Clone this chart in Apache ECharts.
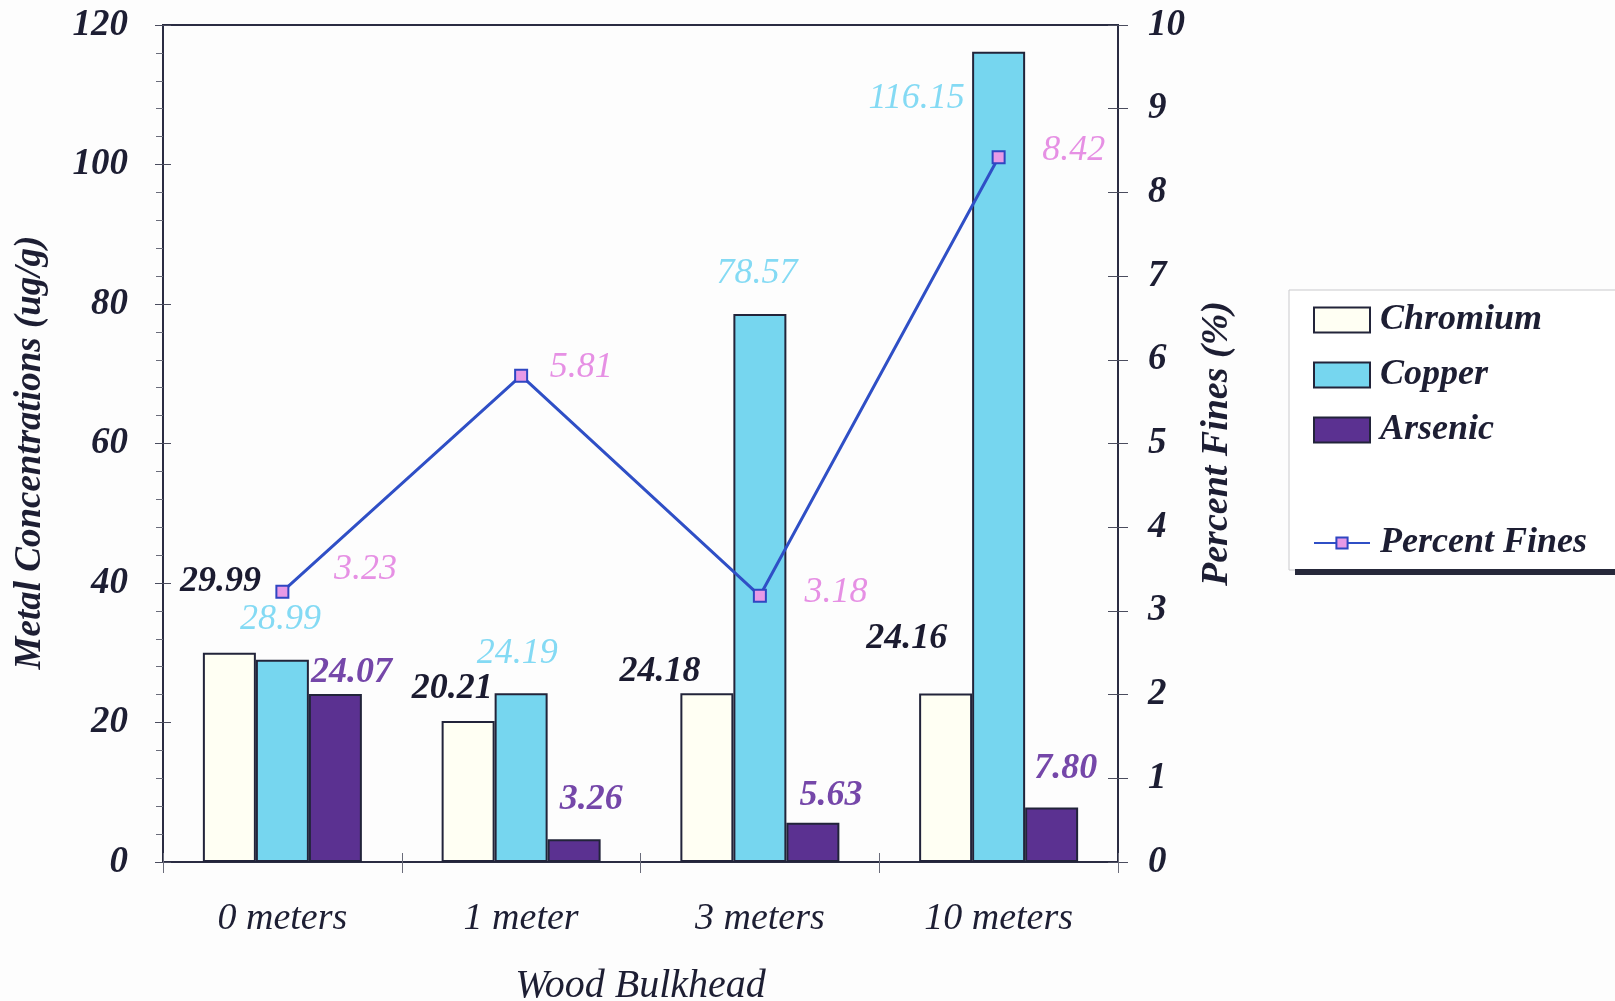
<!DOCTYPE html>
<html>
<head>
<meta charset="utf-8">
<script src="https://cdn.jsdelivr.net/npm/echarts@6/dist/echarts.min.js"></script>
<style>
  html, body { margin: 0; padding: 0; background: #fdfdfd; }
  #chart { width: 1615px; height: 1001px; }
</style>
</head>
<body>
<div id="chart"></div>
<script>
// Sampling stations along the wood bulkhead
const stations = ['0 meters', '1 meter', '3 meters', '10 meters'];

// Metal concentrations (ug/g)
const chromium = [29.99, 20.21, 24.18, 24.16];
const copper   = [28.99, 24.19, 78.57, 116.15];
const arsenic  = [24.07, 3.26, 5.63, 7.80];

// Percent fines (%)
const percentFines = [3.23, 5.81, 3.18, 8.42];

// Left and right axis tick settings
const metalTicks = { min: 0, max: 120, interval: 20 };
const finesTicks = { min: 0, max: 10, interval: 1 };

// Hand-placed value label offsets (px, relative to bar top / point)
const chromiumLabelOffsets = [[-9, -71], [-16, -32], [-47, -22], [-39, -55]];
const copperLabelOffsets   = [[-2, -40], [-4, -40], [-3, -40], [-82, 47]];
const arsenicLabelOffsets  = [[16, -21], [17, -40], [18, -27], [14, -39]];
const finesLabelOffsets    = [[83, -15], [60, -1], [76, 4], [75, 0]];

const FONT = '"Liberation Serif", "Times New Roman", serif';
const INK = '#1d1e33';
const AXIS = '#2a2c42';

function withOffsets(values, offsets) {
  return values.map((v, i) => ({ value: v, label: { offset: offsets[i] } }));
}

function valueLabel(color, weight) {
  return {
    show: true,
    position: 'top',
    distance: 0,
    verticalAlign: 'middle',
    align: 'center',
    color: color,
    fontFamily: FONT,
    fontStyle: 'italic',
    fontWeight: weight,
    fontSize: 36,
    formatter: p => Number(p.value).toFixed(2)
  };
}

// Tick-only axis that draws the inner half of crossing tick marks
function innerTickY(position, range, len) {
  return {
    type: 'value', position: position,
    min: range.min, max: range.max, interval: range.interval,
    axisLine: { show: false },
    axisTick: { show: true, inside: true, length: len, lineStyle: { color: '#4a4c5e', width: 1 } },
    axisLabel: { show: false },
    splitLine: { show: false }
  };
}

const chart = echarts.init(document.getElementById('chart'), null, { renderer: 'canvas' });

const barBorder = { borderColor: '#22243a', borderWidth: 2 };

chart.setOption({
  backgroundColor: '#fdfdfd',
  animation: false,
  textStyle: { fontFamily: FONT },
  grid: {
    left: 163, right: 497, top: 25, bottom: 139,
    outerBoundsMode: 'none',
    containLabel: false,
    show: true, borderColor: AXIS, borderWidth: 2,
    backgroundColor: 'transparent'
  },
  graphic: [
    {
      type: 'rect', z: 0,
      shape: { x: 1289, y: 290, width: 340, height: 280 },
      style: { fill: '#ffffff', stroke: '#c9c9cc', lineWidth: 1 }
    },
    {
      type: 'rect', z: 0,
      shape: { x: 1295, y: 569, width: 330, height: 6 },
      style: { fill: '#26283a' }
    }
  ],
  legend: [
    {
      data: ['Chromium', 'Copper', 'Arsenic'],
      icon: 'rect',
      orient: 'vertical',
      left: 1313, top: 302,
      padding: 0,
      itemWidth: 56, itemHeight: 25,
      itemGap: 19,
      itemStyle: { borderColor: '#22243a', borderWidth: 2 },
      textStyle: {
        fontFamily: FONT, fontStyle: 'italic', fontWeight: 'bold',
        fontSize: 36, lineHeight: 36, color: INK, padding: [0, 0, 0, 5]
      }
    },
    {
      data: ['Percent Fines'],
      orient: 'vertical',
      left: 1313, top: 525,
      padding: 0,
      itemWidth: 56, itemHeight: 14,
      textStyle: {
        fontFamily: FONT, fontStyle: 'italic', fontWeight: 'bold',
        fontSize: 36, lineHeight: 36, color: INK, padding: [0, 0, 0, 5]
      }
    }
  ],
  xAxis: [
    {
      type: 'category',
      data: stations,
      boundaryGap: true,
      name: 'Wood Bulkhead',
      nameLocation: 'middle',
      nameGap: 104,
      nameTextStyle: { fontFamily: FONT, fontStyle: 'italic', fontSize: 40, color: INK },
      axisLine: { lineStyle: { color: AXIS, width: 2 } },
      axisTick: { show: true, alignWithLabel: false, length: 11, lineStyle: { color: '#6a6c7a', width: 1 } },
      axisLabel: { fontFamily: FONT, fontStyle: 'italic', fontSize: 38, color: INK, margin: 38 },
      splitLine: { show: false }
    },
    {
      type: 'category',
      data: stations,
      boundaryGap: true,
      position: 'bottom',
      axisLine: { show: false },
      axisTick: { show: true, inside: true, alignWithLabel: false, length: 9, lineStyle: { color: '#6a6c7a', width: 1 } },
      axisLabel: { show: false },
      splitLine: { show: false }
    }
  ],
  yAxis: [
    {
      type: 'value',
      min: metalTicks.min, max: metalTicks.max, interval: metalTicks.interval,
      name: 'Metal Concentrations (ug/g)',
      nameLocation: 'middle',
      nameRotate: 90,
      nameGap: 114,
      nameTextStyle: { fontFamily: FONT, fontStyle: 'italic', fontWeight: 'bold', fontSize: 37, color: INK, padding: [0, 18, 0, 0] },
      axisLine: { show: true, lineStyle: { color: AXIS, width: 2 } },
      axisTick: { show: true, length: 8, lineStyle: { color: '#4a4c5e', width: 1 } },
      minorTick: { show: true, splitNumber: 5, length: 7, lineStyle: { color: '#6a6c7a', width: 1 } },
      axisLabel: { fontFamily: FONT, fontStyle: 'italic', fontWeight: 'bold', fontSize: 37, color: INK, margin: 35 },
      splitLine: { show: false }
    },
    {
      type: 'value',
      position: 'right',
      min: finesTicks.min, max: finesTicks.max, interval: finesTicks.interval,
      name: 'Percent Fines (%)',
      nameLocation: 'middle',
      nameRotate: 90,
      nameGap: 80,
      nameTextStyle: { fontFamily: FONT, fontStyle: 'italic', fontWeight: 'bold', fontSize: 38, color: INK },
      axisLine: { show: true, lineStyle: { color: AXIS, width: 2 } },
      axisTick: { show: true, length: 10, lineStyle: { color: '#4a4c5e', width: 1 } },
      axisLabel: { fontFamily: FONT, fontStyle: 'italic', fontWeight: 'bold', fontSize: 37, color: INK, margin: 30 },
      splitLine: { show: false }
    },
    innerTickY('left', metalTicks, 8),
    innerTickY('right', finesTicks, 10)
  ],
  series: [
    {
      name: 'Chromium', type: 'bar', yAxisIndex: 0,
      barWidth: 53, barGap: '0%',
      itemStyle: Object.assign({ color: '#fffff3' }, barBorder),
      label: valueLabel('#1b1b30', 'bold'),
      data: withOffsets(chromium, chromiumLabelOffsets)
    },
    {
      name: 'Copper', type: 'bar', yAxisIndex: 0,
      barWidth: 53, barGap: '0%',
      itemStyle: Object.assign({ color: '#76d6ef' }, barBorder),
      label: valueLabel('#84daf4', 'normal'),
      data: withOffsets(copper, copperLabelOffsets)
    },
    {
      name: 'Arsenic', type: 'bar', yAxisIndex: 0,
      barWidth: 53, barGap: '0%',
      itemStyle: Object.assign({ color: '#5b3191' }, barBorder),
      label: valueLabel('#7547a9', 'bold'),
      data: withOffsets(arsenic, arsenicLabelOffsets)
    },
    {
      name: 'Percent Fines', type: 'line', yAxisIndex: 1,
      symbol: 'rect', symbolSize: 12,
      lineStyle: { color: '#2f4fc6', width: 3 },
      itemStyle: { color: '#e89ae6', borderColor: '#2f46c2', borderWidth: 2 },
      label: valueLabel('#e690e4', 'normal'),
      data: withOffsets(percentFines, finesLabelOffsets),
      z: 5
    }
  ]
});
</script>
</body>
</html>
